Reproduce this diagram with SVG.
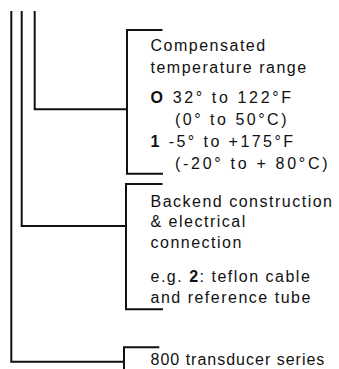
<svg xmlns="http://www.w3.org/2000/svg" width="339" height="369" viewBox="0 0 339 369">
<style>
.ln{fill:none;stroke:#111;stroke-width:2;stroke-linejoin:miter;stroke-linecap:butt}
text{font-family:"Liberation Sans",Arial,Helvetica,sans-serif;font-size:16px;fill:#111;letter-spacing:1.5px}
.b{font-weight:bold}
</style>
<rect width="339" height="369" fill="#fff"/>
<g id="connectors">
<path class="ln" d="M34.7,11 V109.3 H127"/>
<path class="ln" d="M21.7,11 V226 H126"/>
<path class="ln" d="M11.3,11 V361.7 H124"/>
</g>
<g id="node-temperature">
<path class="ln" d="M162.5,30 H127 V173.7 H163"/>
<text x="150.5" y="51">Compensated</text>
<text x="150.5" y="72.5">temperature range</text>
<text x="150.5" y="103.3" textLength="142" lengthAdjust="spacing"><tspan class="b">O</tspan> 32° to 122°F</text>
<text x="175" y="124.5" textLength="113" lengthAdjust="spacing">(0° to 50°C)</text>
<text x="150.5" y="147" textLength="144" lengthAdjust="spacing"><tspan class="b">1</tspan> -5° to +175°F</text>
<text x="175" y="169" textLength="154" lengthAdjust="spacing">(-20° to + 80°C)</text>
</g>
<g id="node-backend">
<path class="ln" d="M162.5,184 H126 V309.3 H163"/>
<text x="150.5" y="206.5">Backend construction</text>
<text x="150.5" y="226.5">&amp; electrical</text>
<text x="150.5" y="247.7">connection</text>
<text x="150.5" y="281.5">e.g. <tspan class="b">2</tspan>: teflon cable</text>
<text x="150.5" y="303">and reference tube</text>
</g>
<g id="node-series">
<path class="ln" d="M159.3,347.3 H124 V369"/>
<text x="150.5" y="365" style="letter-spacing:1px">800 transducer series</text>
</g>
</svg>
